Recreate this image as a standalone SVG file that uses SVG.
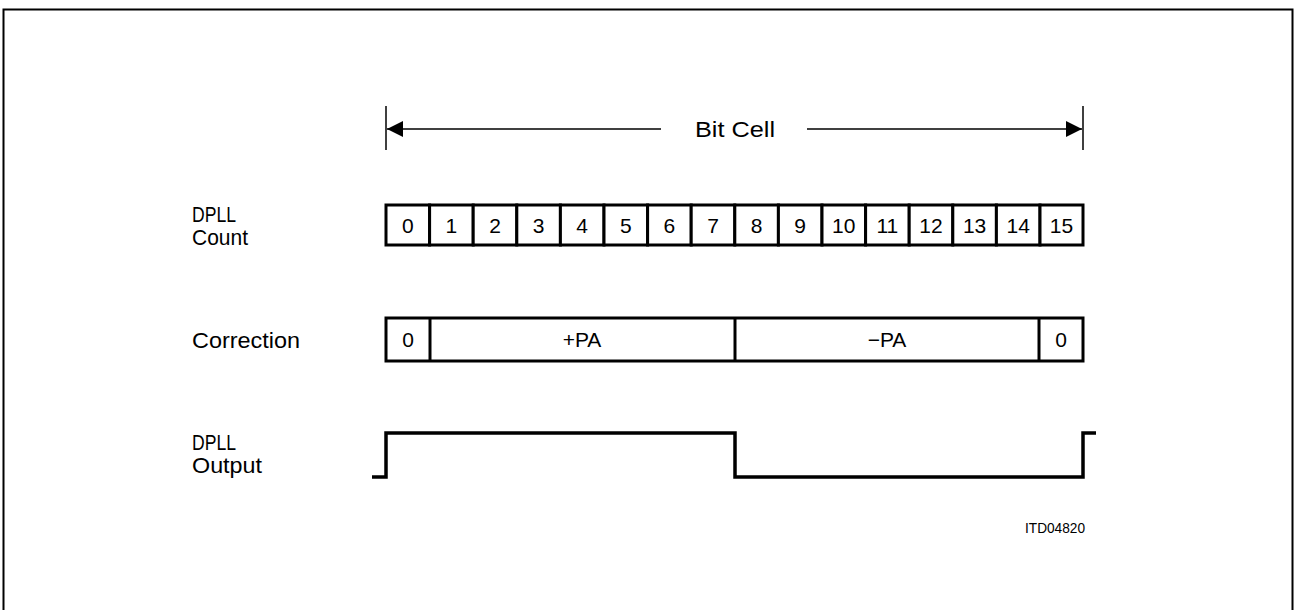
<svg xmlns="http://www.w3.org/2000/svg" width="1295" height="610" viewBox="0 0 1295 610">
<style>
text{font-family:"Liberation Sans",Arial,sans-serif;fill:#000}
.lbl{font-size:22px}
.num{font-size:21px;text-anchor:middle}
.cell{fill:#fff;stroke:#000;stroke-width:3}
.thin{stroke:#000;stroke-width:1.5;fill:none}
.wave{stroke:#000;stroke-width:3.5;fill:none}
</style>
<defs>
<marker id="ah" viewBox="0 0 16 16" refX="16" refY="8" markerWidth="16" markerHeight="16" markerUnits="userSpaceOnUse" orient="auto-start-reverse">
<path d="M0,0 L16,8 L0,16 Z" fill="#000"/>
</marker>
</defs>
<rect x="3.5" y="9.5" width="1289" height="620" fill="#fff" stroke="#000" stroke-width="2"/>
<g id="labels">
<text class="lbl" x="192" y="222" textLength="44" lengthAdjust="spacingAndGlyphs">DPLL</text>
<text class="lbl" x="192" y="245" textLength="56" lengthAdjust="spacingAndGlyphs">Count</text>
<text class="lbl" x="192" y="348" textLength="108" lengthAdjust="spacingAndGlyphs">Correction</text>
<text class="lbl" x="192" y="450" textLength="44" lengthAdjust="spacingAndGlyphs">DPLL</text>
<text class="lbl" x="192" y="473" textLength="70" lengthAdjust="spacingAndGlyphs">Output</text>
<text x="1025" y="533" style="font-size:15px" textLength="60" lengthAdjust="spacingAndGlyphs">ITD04820</text>
</g>
<g id="bitcell">
<line class="thin" x1="386" y1="106" x2="386" y2="150"/>
<line class="thin" x1="1083" y1="106" x2="1083" y2="150"/>
<line class="thin" x1="661" y1="129" x2="387" y2="129" marker-end="url(#ah)"/>
<line class="thin" x1="807" y1="129" x2="1082" y2="129" marker-end="url(#ah)"/>
<text class="lbl" x="695" y="137" textLength="80" lengthAdjust="spacingAndGlyphs">Bit Cell</text>
</g>
<g id="count">
<rect class="cell" x="386" y="205" width="43.6" height="40"/>
<rect class="cell" x="429.6" y="205" width="43.6" height="40"/>
<rect class="cell" x="473.2" y="205" width="43.6" height="40"/>
<rect class="cell" x="516.8" y="205" width="43.6" height="40"/>
<rect class="cell" x="560.4" y="205" width="43.6" height="40"/>
<rect class="cell" x="604" y="205" width="43.6" height="40"/>
<rect class="cell" x="647.6" y="205" width="43.6" height="40"/>
<rect class="cell" x="691.2" y="205" width="43.6" height="40"/>
<rect class="cell" x="734.8" y="205" width="43.6" height="40"/>
<rect class="cell" x="778.4" y="205" width="43.6" height="40"/>
<rect class="cell" x="822" y="205" width="43.6" height="40"/>
<rect class="cell" x="865.6" y="205" width="43.6" height="40"/>
<rect class="cell" x="909.2" y="205" width="43.6" height="40"/>
<rect class="cell" x="952.8" y="205" width="43.6" height="40"/>
<rect class="cell" x="996.4" y="205" width="43.6" height="40"/>
<rect class="cell" x="1040" y="205" width="43" height="40"/>
<text class="num" x="407.8" y="233">0</text>
<text class="num" x="451.4" y="233">1</text>
<text class="num" x="495" y="233">2</text>
<text class="num" x="538.6" y="233">3</text>
<text class="num" x="582.2" y="233">4</text>
<text class="num" x="625.8" y="233">5</text>
<text class="num" x="669.4" y="233">6</text>
<text class="num" x="713" y="233">7</text>
<text class="num" x="756.6" y="233">8</text>
<text class="num" x="800.2" y="233">9</text>
<text class="num" x="843.8" y="233">10</text>
<text class="num" x="887.4" y="233">11</text>
<text class="num" x="931" y="233">12</text>
<text class="num" x="974.6" y="233">13</text>
<text class="num" x="1018.2" y="233">14</text>
<text class="num" x="1061.5" y="233">15</text>
</g>
<g id="correction">
<rect class="cell" x="386" y="318" width="697" height="43"/>
<line class="thin" style="stroke-width:3" x1="430" y1="318" x2="430" y2="361"/>
<line class="thin" style="stroke-width:3" x1="735" y1="318" x2="735" y2="361"/>
<line class="thin" style="stroke-width:3" x1="1039" y1="318" x2="1039" y2="361"/>
<text class="num" x="408" y="347">0</text>
<text class="num" x="582" y="347">+PA</text>
<text class="num" x="887" y="347">−PA</text>
<text class="num" x="1061" y="347">0</text>
</g>
<g id="connectors">
<polyline class="wave" points="372,477 386,477 386,433 735,433 735,477 1083,477 1083,433 1096,433"/>
</g>
</svg>
